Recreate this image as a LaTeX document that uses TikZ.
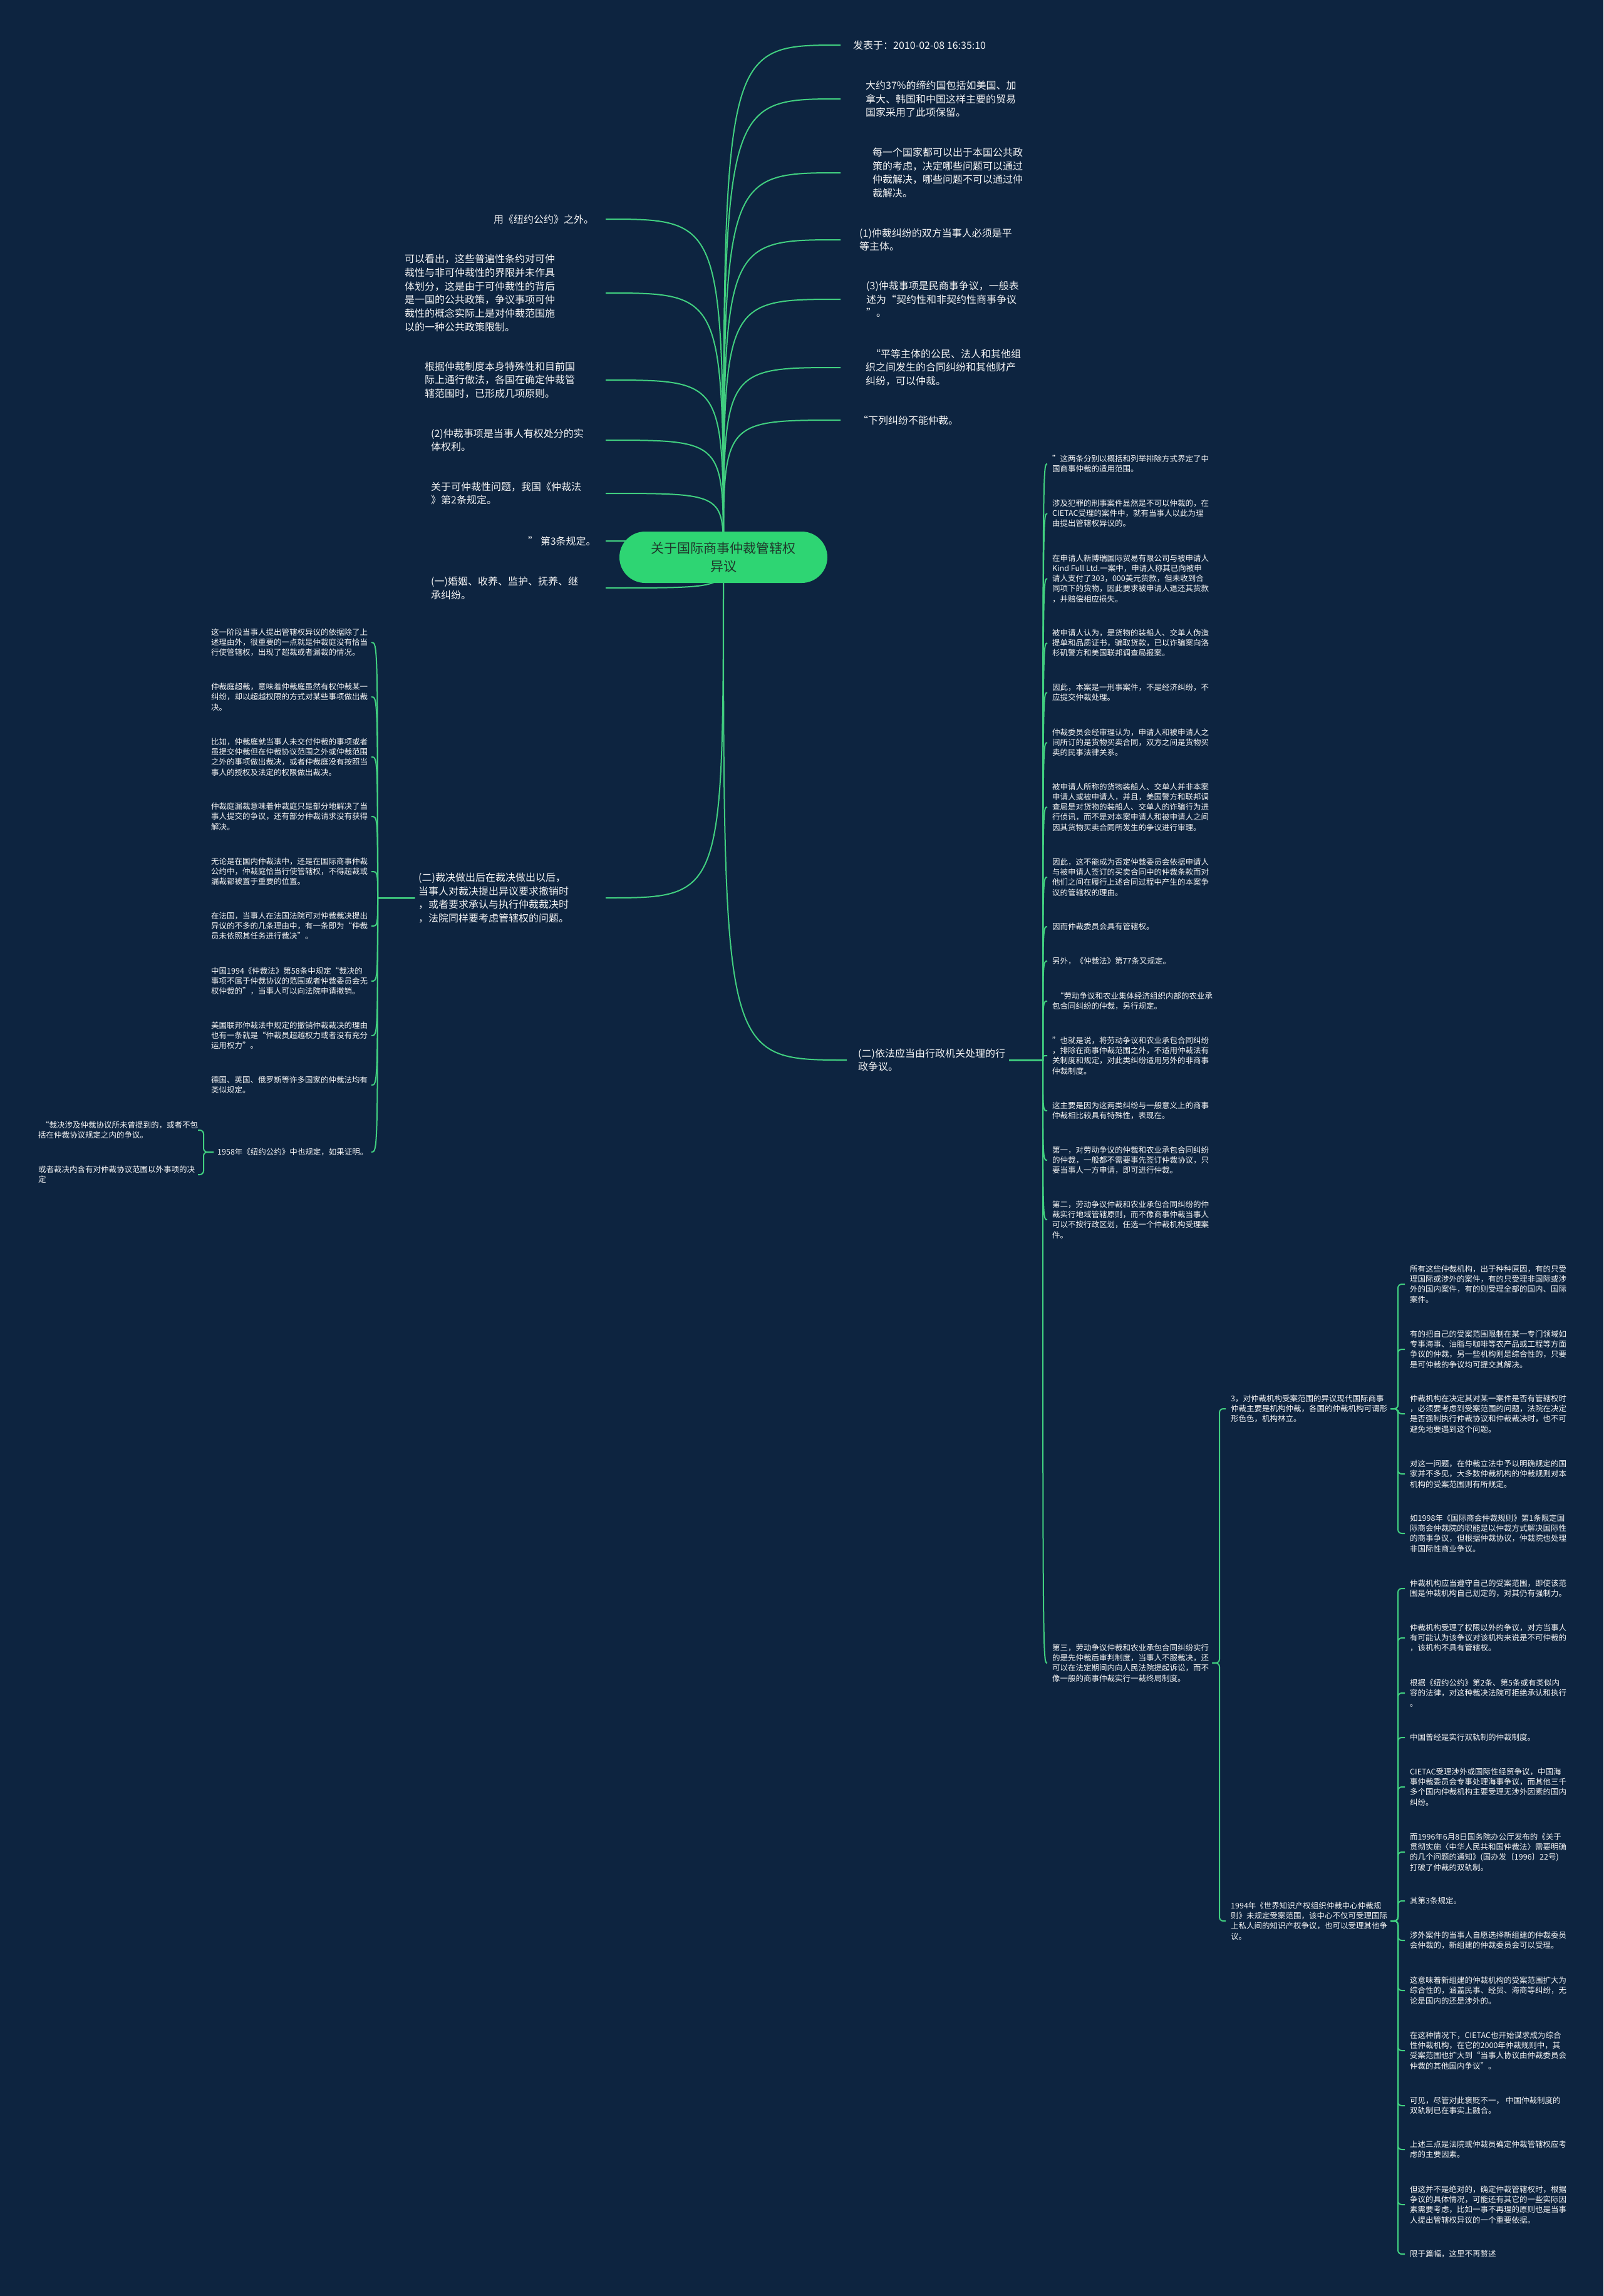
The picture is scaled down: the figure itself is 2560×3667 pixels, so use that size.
\documentclass[tikz,border=0pt]{standalone}
\usepackage{fontspec}
\setmainfont{Noto Sans CJK SC}
\definecolor{bg}{HTML}{0D2440}
\definecolor{ln}{HTML}{41CF80}
\definecolor{rootfill}{HTML}{2ED573}
\definecolor{roottext}{HTML}{1F3A2C}
\definecolor{tx}{HTML}{F4F4F4}
\begin{document}
\begin{tikzpicture}[x=1pt,y=-1pt,
  conn/.style={draw=ln,line width=2pt},
  brk/.style={draw=ln,line width=2pt,rounded corners=6pt},
  lone/.style={anchor=west,inner sep=0pt,align=left,text=tx,font=\fontsize{16}{21.7}\selectfont},
  ltwo/.style={anchor=west,inner sep=0pt,align=left,text=tx,font=\fontsize{12.5}{16.2}\selectfont},
  rootbox/.style={fill=rootfill,rounded corners=41pt,minimum width=332pt,minimum height=82pt,align=center,text=roottext,font=\fontsize{21}{29}\selectfont,inner sep=0pt}]
\useasboundingbox (0,0) rectangle (2560,3667);
\fill[bg] (0,0) rectangle (2560,3667);

% ---------- coordinates ----------
\coordinate (rc) at (1155,890);
\coordinate (tx) at (1342,0);
\coordinate (lx) at (967,0);
\coordinate (sp1) at (1665,1693);
\coordinate (hk1) at (1672,0);
\coordinate (sp2) at (603,1434);
\coordinate (hk2) at (593,0);
\coordinate (s3) at (1947,0);
\coordinate (b3) at (2232,0);
\coordinate (b58) at (325,0);
\coordinate (hk58) at (316,0);

% ---------- top right ----------
\node[lone] (t1) at (1362,72) {发表于：2010-02-08 16:35:10};
\node[lone] (t2) at (1382,158) {大约37\%的缔约国包括如美国、加\\拿大、韩国和中国这样主要的贸易\\国家采用了此项保留。};
\node[lone] (t3) at (1393,276) {每一个国家都可以出于本国公共政\\策的考虑，决定哪些问题可以通过\\仲裁解决，哪些问题不可以通过仲\\裁解决。};
\node[lone] (t4) at (1372,383) {(1)仲裁纠纷的双方当事人必须是平\\等主体。};
\node[lone] (t5) at (1383,478) {(3)仲裁事项是民商事争议，一般表\\述为“契约性和非契约性商事争议\\”。};
\node[lone] (t6) at (1382,587) {\hspace*{8pt}“平等主体的公民、法人和其他组\\织之间发生的合同纠纷和其他财产\\纠纷，可以仲裁。};
\node[lone] (t7) at (1370,671) {“下列纠纷不能仲裁。};

% ---------- top left ----------
\node[lone] (l1) at (788,350) {用《纽约公约》之外。};
\node[lone] (l2) at (646,468) {可以看出，这些普遍性条约对可仲\\裁性与非可仲裁性的界限并未作具\\体划分，这是由于可仲裁性的背后\\是一国的公共政策，争议事项可仲\\裁性的概念实际上是对仲裁范围施\\以的一种公共政策限制。};
\node[lone] (l3) at (678,607) {根据仲裁制度本身特殊性和目前国\\际上通行做法，各国在确定仲裁管\\辖范围时，已形成几项原则。};
\node[lone] (l4) at (688,703) {(2)仲裁事项是当事人有权处分的实\\体权利。};
\node[lone] (l5) at (688,788) {关于可仲裁性问题，我国《仲裁法\\》第2条规定。};
\node[lone] (l6) at (843,864) {” 第3条规定。};
\node[lone] (l7) at (688,939) {(一)婚姻、收养、监护、抚养、继\\承纠纷。};

% ---------- level 1 lower ----------
\node[lone] (p2) at (668,1434) {(二)裁决做出后在裁决做出以后，\\当事人对裁决提出异议要求撤销时\\，或者要求承认与执行仲裁裁决时\\，法院同样要考虑管辖权的问题。};
\node[lone] (pR) at (1370,1693) {(二)依法应当由行政机关处理的行\\政争议。};

% ---------- left column ----------
\node[ltwo] (A1) at (337,1026) {这一阶段当事人提出管辖权异议的依据除了上\\述理由外，很重要的一点就是仲裁庭没有恰当\\行使管辖权，出现了超裁或者漏裁的情况。};
\node[ltwo] (A2) at (337,1113) {仲裁庭超裁，意味着仲裁庭虽然有权仲裁某一\\纠纷，却以超越权限的方式对某些事项做出裁\\决。};
\node[ltwo] (A3) at (337,1209) {比如，仲裁庭就当事人未交付仲裁的事项或者\\虽提交仲裁但在仲裁协议范围之外或仲裁范围\\之外的事项做出裁决，或者仲裁庭没有按照当\\事人的授权及法定的权限做出裁决。};
\node[ltwo] (A4) at (337,1304) {仲裁庭漏裁意味着仲裁庭只是部分地解决了当\\事人提交的争议，还有部分仲裁请求没有获得\\解决。};
\node[ltwo] (A5) at (337,1392) {无论是在国内仲裁法中，还是在国际商事仲裁\\公约中，仲裁庭恰当行使管辖权，不得超裁或\\漏裁都被置于重要的位置。};
\node[ltwo] (A6) at (337,1479) {在法国，当事人在法国法院可对仲裁裁决提出\\异议的不多的几条理由中，有一条即为“仲裁\\员未依照其任务进行裁决”。};
\node[ltwo] (A7) at (337,1567) {中国1994《仲裁法》第58条中规定“裁决的\\事项不属于仲裁协议的范围或者仲裁委员会无\\权仲裁的”，当事人可以向法院申请撤销。};
\node[ltwo] (A8) at (337,1654) {美国联邦仲裁法中规定的撤销仲裁裁决的理由\\也有一条就是“仲裁员超越权力或者没有充分\\运用权力”。};
\node[ltwo] (A9) at (337,1733) {德国、英国、俄罗斯等许多国家的仲裁法均有\\类似规定。};
\node[ltwo] (A10) at (347,1840) {1958年《纽约公约》中也规定，如果证明。};
\node[ltwo] (B1) at (61,1805) {\hspace*{5pt}“裁决涉及仲裁协议所未曾提到的，或者不包\\括在仲裁协议规定之内的争议。};
\node[ltwo] (B2) at (61,1876) {或者裁决内含有对仲裁协议范围以外事项的决\\定};

% ---------- right column ----------
\node[ltwo] (R1) at (1680,741) {”这两条分别以概括和列举排除方式界定了中\\国商事仲裁的适用范围。};
\node[ltwo] (R2) at (1680,820) {涉及犯罪的刑事案件显然是不可以仲裁的，在\\CIETAC受理的案件中，就有当事人以此为理\\由提出管辖权异议的。};
\node[ltwo] (R3) at (1680,924) {在申请人新博瑞国际贸易有限公司与被申请人\\Kind Full Ltd.一案中，申请人称其已向被申\\请人支付了303，000美元货款，但未收到合\\同项下的货物，因此要求被申请人退还其货款\\，并赔偿相应损失。};
\node[ltwo] (R4) at (1680,1027) {被申请人认为，是货物的装船人、交单人伪造\\提单和品质证书，骗取货款，已以诈骗案向洛\\杉矶警方和美国联邦调查局报案。};
\node[ltwo] (R5) at (1680,1106) {因此，本案是一刑事案件，不是经济纠纷，不\\应提交仲裁处理。};
\node[ltwo] (R6) at (1680,1186) {仲裁委员会经审理认为，申请人和被申请人之\\间所订的是货物买卖合同，双方之间是货物买\\卖的民事法律关系。};
\node[ltwo] (R7) at (1680,1289) {被申请人所称的货物装船人、交单人并非本案\\申请人或被申请人，并且，美国警方和联邦调\\查局是对货物的装船人、交单人的诈骗行为进\\行侦讯，而不是对本案申请人和被申请人之间\\因其货物买卖合同所发生的争议进行审理。};
\node[ltwo] (R8) at (1680,1401) {因此，这不能成为否定仲裁委员会依据申请人\\与被申请人签订的买卖合同中的仲裁条款而对\\他们之间在履行上述合同过程中产生的本案争\\议的管辖权的理由。};
\node[ltwo] (R9) at (1680,1480) {因而仲裁委员会具有管辖权。};
\node[ltwo] (R10) at (1680,1535) {另外，《仲裁法》第77条又规定。};
\node[ltwo] (R11) at (1680,1599) {\hspace*{6pt}“劳动争议和农业集体经济组织内部的农业承\\包合同纠纷的仲裁，另行规定。};
\node[ltwo] (R12) at (1680,1686) {”也就是说，将劳动争议和农业承包合同纠纷\\，排除在商事仲裁范围之外，不适用仲裁法有\\关制度和规定，对此类纠纷适用另外的非商事\\仲裁制度。};
\node[ltwo] (R13) at (1680,1774) {这主要是因为这两类纠纷与一般意义上的商事\\仲裁相比较具有特殊性，表现在。};
\node[ltwo] (R14) at (1680,1853) {第一，对劳动争议的仲裁和农业承包合同纠纷\\的仲裁，一般都不需要事先签订仲裁协议，只\\要当事人一方申请，即可进行仲裁。};
\node[ltwo] (R15) at (1680,1948) {第二，劳动争议仲裁和农业承包合同纠纷的仲\\裁实行地域管辖原则，而不像商事仲裁当事人\\可以不按行政区划，任选一个仲裁机构受理案\\件。};
\node[ltwo] (R16) at (1680,2656) {第三，劳动争议仲裁和农业承包合同纠纷实行\\的是先仲裁后审判制度，当事人不服裁决，还\\可以在法定期间内向人民法院提起诉讼，而不\\像一般的商事仲裁实行一裁终局制度。};

% ---------- group 3 ----------
\node[ltwo] (P3) at (1965,2250) {3，对仲裁机构受案范围的异议现代国际商事\\仲裁主要是机构仲裁，各国的仲裁机构可谓形\\形色色，机构林立。};
\node[ltwo] (C1) at (2251,2051) {所有这些仲裁机构，出于种种原因，有的只受\\理国际或涉外的案件，有的只受理非国际或涉\\外的国内案件，有的则受理全部的国内、国际\\案件。};
\node[ltwo] (C2) at (2251,2155) {有的把自己的受案范围限制在某一专门领域如\\专事海事、油脂与咖啡等农产品或工程等方面\\争议的仲裁，另一些机构则是综合性的，只要\\是可仲裁的争议均可提交其解决。};
\node[ltwo] (C3) at (2251,2258) {仲裁机构在决定其对某一案件是否有管辖权时\\，必须要考虑到受案范围的问题，法院在决定\\是否强制执行仲裁协议和仲裁裁决时，也不可\\避免地要遇到这个问题。};
\node[ltwo] (C4) at (2251,2354) {对这一问题，在仲裁立法中予以明确规定的国\\家并不多见，大多数仲裁机构的仲裁规则对本\\机构的受案范围则有所规定。};
\node[ltwo] (C5) at (2251,2449) {如1998年《国际商会仲裁规则》第1条限定国\\际商会仲裁院的职能是以仲裁方式解决国际性\\的商事争议，但根据仲裁协议，仲裁院也处理\\非国际性商业争议。};

% ---------- group 1994 ----------
\node[ltwo] (P4) at (1965,3068) {1994年《世界知识产权组织仲裁中心仲裁规\\则》未规定受案范围，该中心不仅可受理国际\\上私人间的知识产权争议，也可以受理其他争\\议。};
\node[ltwo] (D1) at (2251,2537) {仲裁机构应当遵守自己的受案范围，即使该范\\围是仲裁机构自己划定的，对其仍有强制力。};
\node[ltwo] (D2) at (2251,2616) {仲裁机构受理了权限以外的争议，对方当事人\\有可能认为该争议对该机构来说是不可仲裁的\\，该机构不具有管辖权。};
\node[ltwo] (D3) at (2251,2704) {根据《纽约公约》第2条、第5条或有类似内\\容的法律，对这种裁决法院可拒绝承认和执行\\。};
\node[ltwo] (D4) at (2251,2775) {中国曾经是实行双轨制的仲裁制度。};
\node[ltwo] (D5) at (2251,2854) {CIETAC受理涉外或国际性经贸争议，中国海\\事仲裁委员会专事处理海事争议，而其他三千\\多个国内仲裁机构主要受理无涉外因素的国内\\纠纷。};
\node[ltwo] (D6) at (2251,2958) {而1996年6月8日国务院办公厅发布的《关于\\贯彻实施〈中华人民共和国仲裁法〉需要明确\\的几个问题的通知》(国办发〔1996〕22号)\\打破了仲裁的双轨制。};
\node[ltwo] (D7) at (2251,3036) {其第3条规定。};
\node[ltwo] (D8) at (2251,3099) {涉外案件的当事人自愿选择新组建的仲裁委员\\会仲裁的，新组建的仲裁委员会可以受理。};
\node[ltwo] (D9) at (2251,3179) {这意味着新组建的仲裁机构的受案范围扩大为\\综合性的，涵盖民事、经贸、海商等纠纷，无\\论是国内的还是涉外的。};
\node[ltwo] (D10) at (2251,3275) {在这种情况下，CIETAC也开始谋求成为综合\\性仲裁机构，在它的2000年仲裁规则中，其\\受案范围也扩大到“当事人协议由仲裁委员会\\仲裁的其他国内争议”。};
\node[ltwo] (D11) at (2251,3363) {可见，尽管对此褒贬不一， 中国仲裁制度的\\双轨制已在事实上融合。};
\node[ltwo] (D12) at (2251,3433) {上述三点是法院或仲裁员确定仲裁管辖权应考\\虑的主要因素。};
\node[ltwo] (D13) at (2251,3521) {但这并不是绝对的，确定仲裁管辖权时，根据\\争议的具体情况，可能还有其它的一些实际因\\素需要考虑，比如一事不再理的原则也是当事\\人提出管辖权异议的一个重要依据。};
\node[ltwo] (D14) at (2251,3600) {限于篇幅，这里不再赘述};

% ---------- connectors from root ----------
\foreach \n in {t1,t2,t3,t4,t5,t6,t7}
  \draw[conn] (rc) .. controls (rc |- \n.west) .. (tx |- \n.west);
\foreach \n in {l1,l2,l3,l4,l5,l6,l7,p2}
  \draw[conn] (rc) .. controls (rc |- \n.west) .. (lx |- \n.west);
\draw[conn] (rc) .. controls (rc |- pR.west) .. ([xshift=-18pt]pR.west);

% ---------- left column ----------
\foreach \n in {A1,A2,A3,A4,A5,A6,A7,A8,A9,A10}
  \draw[conn] ([xshift=-6pt]p2.west) -- (sp2) .. controls (sp2 |- \n.west) .. (hk2 |- \n.west);
\foreach \n in {B1,B2}
  \draw[brk] ([xshift=-6pt]A10.west) -- (b58 |- A10.west) -- (b58 |- \n.west) -- (hk58 |- \n.west);

% ---------- right column ----------
\foreach \n in {R1,R2,R3,R4,R5,R6,R7,R8,R9,R10,R11,R12,R13,R14,R15,R16}
  \draw[conn] ([xshift=6pt]pR.east) -- (sp1) .. controls (sp1 |- \n.west) .. (hk1 |- \n.west);
\foreach \n in {P3,P4}
  \draw[brk] ([xshift=5pt]R16.east) -- (s3 |- R16.east) -- (s3 |- \n.west) -- ([xshift=-8pt]\n.west);
\foreach \n in {C1,C2,C3,C4,C5}
  \draw[brk] ([xshift=5pt]P3.east) -- (b3 |- P3.east) -- (b3 |- \n.west) -- ([xshift=-8pt]\n.west);
\foreach \n in {D1,D2,D3,D4,D5,D6,D7,D8,D9,D10,D11,D12,D13,D14}
  \draw[brk] ([xshift=5pt]P4.east) -- (b3 |- P4.east) -- (b3 |- \n.west) -- ([xshift=-8pt]\n.west);

% ---------- root ----------
\node[rootbox] (root) at (rc) {关于国际商事仲裁管辖权\\异议};
\end{tikzpicture}
\end{document}
